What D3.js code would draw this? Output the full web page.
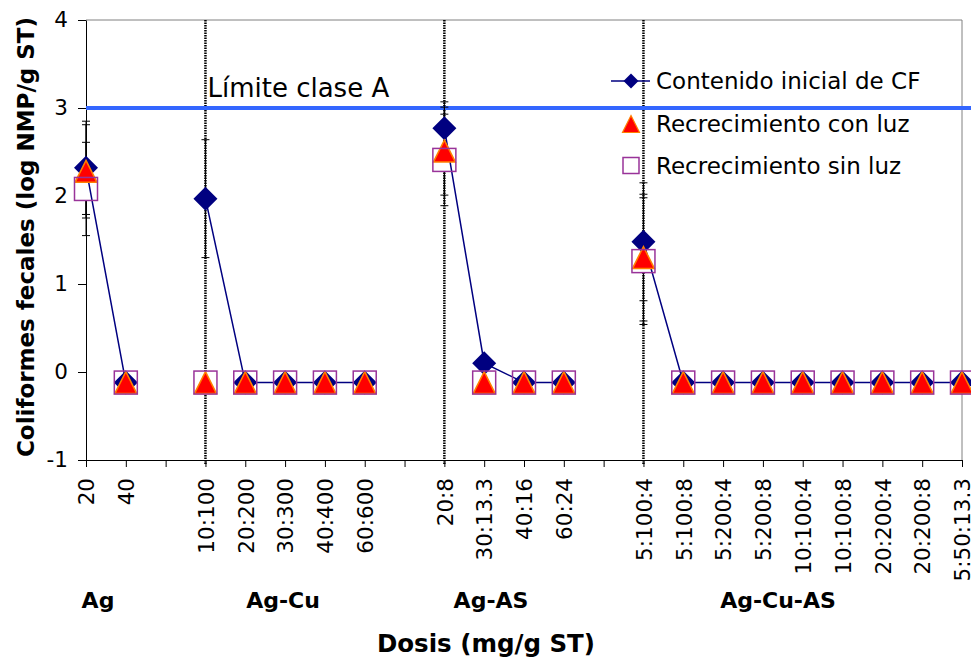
<!DOCTYPE html>
<html>
<head>
<meta charset="utf-8">
<script src="https://cdn.jsdelivr.net/npm/d3@7"></script>
<style>
  body { margin: 0; background: #fff; }
  text { font-family: "DejaVu Sans", Verdana, sans-serif; fill: #000; }
</style>
</head>
<body>
<script>
// dose categories, '' = empty slot between two groups
const categories = ['20', '40', '', '10:100', '20:200', '30:300', '40:400', '60:600', '',
    '20:8', '30:13.3', '40:16', '60:24', '',
    '5:100:4', '5:100:8', '5:200:4', '5:200:8', '10:100:4', '10:100:8', '20:200:4', '20:200:8', '5:50:13.3'];
const groupNames = ['Ag', 'Ag-Cu', 'Ag-AS', 'Ag-Cu-AS'];
const dividers = ['10:100', '20:8', '5:100:4'];
const yTicks = [-1, 0, 1, 2, 3, 4];
const limitA = 3;

// log NMP/g ST
const cfInicial = [2.32, -0.12, null, 1.97, -0.12, -0.12, -0.12, -0.12, null,
    2.77, 0.10, -0.12, -0.12, null,
    1.48, -0.12, -0.12, -0.12, -0.12, -0.12, -0.12, -0.12, -0.12];
const conLuz = [2.28, -0.12, null, -0.12, -0.12, -0.12, -0.12, -0.12, null,
    2.51, -0.12, -0.12, -0.12, null,
    1.30, -0.12, -0.12, -0.12, -0.12, -0.12, -0.12, -0.12, -0.12];
const sinLuz = [2.08, -0.12, null, -0.12, -0.12, -0.12, -0.12, -0.12, null,
    2.41, -0.12, -0.12, -0.12, null,
    1.26, -0.12, -0.12, -0.12, -0.12, -0.12, -0.12, -0.12, -0.12];
// error bars (+/-)
const errInicial = [0.53, 0, null, 0.67, 0, 0, 0, 0, null, 0.30, 0, 0, 0, null, 0.67, 0, 0, 0, 0, 0, 0, 0, 0];
const errConLuz = [0.53, 0, null, 0, 0, 0, 0, 0, null, 0.50, 0, 0, 0, null, 0.72, 0, 0, 0, 0, 0, 0, 0, 0];
const errSinLuz = [0.53, 0, null, 0, 0, 0, 0, 0, null, 0.52, 0, 0, 0, null, 0.72, 0, 0, 0, 0, 0, 0, 0, 0];

const W = 971, H = 660;
const plot = { left: 86, right: 962, top: 20, bottom: 460 };
const navy = '#000080', purple = '#993399', blue = '#3366ff';

let svg = d3.select('body').append('svg')
    .attr('width', W)
    .attr('height', H);

let x = d3.scalePoint().domain(d3.range(categories.length)).range([plot.left, plot.right]);
let y = d3.scaleLinear().domain([-1, 4]).range([plot.bottom, plot.top]);

// plot frame (top + right)
svg.append('path')
    .attr('d', `M${plot.left},${plot.top}H${plot.right}V${plot.bottom}`)
    .attr('fill', 'none').attr('stroke', '#808080').attr('stroke-width', 1);

// dotted separators between groups
svg.append('g').selectAll('line').data(dividers).enter().append('line')
    .attr('x1', d => x(categories.indexOf(d)))
    .attr('x2', d => x(categories.indexOf(d)))
    .attr('y1', plot.top)
    .attr('y2', plot.bottom + 5)
    .attr('stroke', '#000')
    .attr('stroke-width', 2.5)
    .attr('stroke-dasharray', '1.5,1');

// axes
let yAxis = svg.append('g')
    .attr('transform', `translate(${plot.left},0)`)
    .call(d3.axisLeft(y).tickValues(yTicks).tickFormat(d => String(d))
        .tickSize(8).tickPadding(10).tickSizeOuter(0));
yAxis.selectAll('text').style('font-size', '21.5px');

let xAxis = svg.append('g')
    .attr('transform', `translate(0,${plot.bottom})`)
    .call(d3.axisBottom(x).tickSize(7).tickSizeOuter(0).tickFormat(i => categories[i]));
xAxis.selectAll('text')
    .style('font-size', '21.5px')
    .attr('transform', 'rotate(-90)')
    .attr('text-anchor', 'end')
    .attr('x', -18)
    .attr('y', 0)
    .attr('dy', '0.36em');
svg.selectAll('.domain').attr('stroke', '#000');
svg.selectAll('.tick line').attr('stroke', '#000');

// class A limit
svg.append('line')
    .attr('x1', plot.left).attr('x2', W)
    .attr('y1', y(limitA)).attr('y2', y(limitA))
    .attr('stroke', blue).attr('stroke-width', 4);
svg.append('text')
    .attr('x', x(categories.indexOf(dividers[0])) + 2)
    .attr('y', y(limitA) - 11)
    .style('font-size', '26px')
    .text('Límite clase A');

// build point records for each series
let series = [
    { vals: cfInicial, err: errInicial },
    { vals: conLuz, err: errConLuz },
    { vals: sinLuz, err: errSinLuz }
].map(s => s.vals.map((v, i) => ({ i: i, v: v, e: s.err[i] })).filter(d => d.v != null));

// error bars
let eb = svg.append('g').attr('stroke', '#000').attr('stroke-width', 1);
series.forEach(pts => {
    pts.filter(d => d.e > 0).forEach(d => {
        let cx = x(d.i), y0 = y(d.v - d.e), y1 = y(d.v + d.e);
        eb.append('path').attr('d', `M${cx},${y0}V${y1}M${cx - 4},${y0}h8M${cx - 4},${y1}h8`);
    });
});

const diamond = r => `M0,${-r}L${r},0L0,${r}L${-r},0Z`;
const triangle = r => `M0,${-r}L${r},${r}L${-r},${r}Z`;

// square backgrounds (white) go under the other markers
svg.append('g').selectAll('rect').data(series[2]).enter().append('rect')
    .attr('x', d => x(d.i) - 11.5).attr('y', d => y(d.v) - 11.5)
    .attr('width', 23).attr('height', 23)
    .attr('fill', '#fff');

// line for the initial content
let line = d3.line()
    .defined((d, i) => cfInicial[i] != null)
    .x((d, i) => x(i))
    .y(d => y(d));
svg.append('path')
    .attr('d', line(cfInicial))
    .attr('fill', 'none')
    .attr('stroke', navy)
    .attr('stroke-width', 1.5);

svg.append('g').selectAll('path').data(series[0]).enter().append('path')
    .attr('transform', d => `translate(${x(d.i)},${y(d.v)})`)
    .attr('d', diamond(12))
    .attr('fill', navy);

svg.append('g').selectAll('path').data(series[1]).enter().append('path')
    .attr('transform', d => `translate(${x(d.i)},${y(d.v)})`)
    .attr('d', triangle(11))
    .attr('fill', '#ff0000')
    .attr('stroke', '#ff8000')
    .attr('stroke-width', 1.5);

svg.append('g').selectAll('rect').data(series[2]).enter().append('rect')
    .attr('x', d => x(d.i) - 11.5).attr('y', d => y(d.v) - 11.5)
    .attr('width', 23).attr('height', 23)
    .attr('fill', 'none')
    .attr('stroke', purple)
    .attr('stroke-width', 1.5);

// legend
let legend = svg.append('g').attr('transform', 'translate(631,0)');
legend.append('line').attr('x1', -20).attr('x2', 19).attr('y1', 81).attr('y2', 81)
    .attr('stroke', navy).attr('stroke-width', 1.5);
legend.append('path').attr('transform', 'translate(0,81)').attr('d', diamond(7.5)).attr('fill', navy);
legend.append('path').attr('transform', 'translate(0,124)').attr('d', triangle(8.5))
    .attr('fill', '#ff0000').attr('stroke', '#ff8000').attr('stroke-width', 1.2);
legend.append('rect').attr('x', -8).attr('y', 157.5).attr('width', 16).attr('height', 16)
    .attr('fill', 'none').attr('stroke', purple).attr('stroke-width', 1.5);
legend.selectAll('text')
    .data(['Contenido inicial de CF', 'Recrecimiento con luz', 'Recrecimiento sin luz'])
    .enter().append('text')
    .attr('x', 25)
    .attr('y', (d, i) => [81, 124, 165.5][i])
    .attr('dy', '0.35em')
    .style('font-size', '23px')
    .text(d => d);

// group labels under the axis
const groupLabelX = [98, 283, 491, 778];
svg.append('g').selectAll('text').data(groupNames).enter().append('text')
    .attr('x', (d, i) => groupLabelX[i])
    .attr('y', 608)
    .attr('text-anchor', 'middle')
    .style('font-size', '22px')
    .style('font-weight', 'bold')
    .text(d => d);

// axis titles
svg.append('text')
    .attr('x', 486).attr('y', 652)
    .attr('text-anchor', 'middle')
    .style('font-size', '24.5px')
    .style('font-weight', 'bold')
    .text('Dosis (mg/g ST)');
svg.append('text')
    .attr('transform', 'translate(34,237) rotate(-90)')
    .attr('text-anchor', 'middle')
    .style('font-size', '23px')
    .style('font-weight', 'bold')
    .text('Coliformes fecales (log NMP/g ST)');
</script>
</body>
</html>
